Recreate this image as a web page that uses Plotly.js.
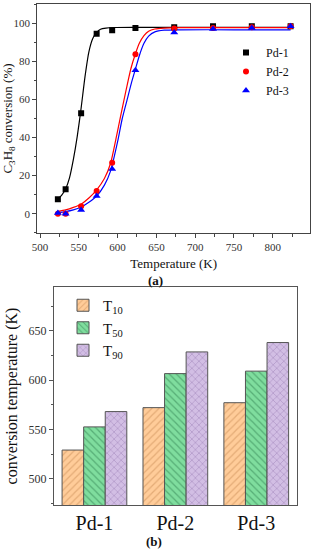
<!DOCTYPE html>
<html>
<head>
<meta charset="utf-8">
<script src="https://cdn.plot.ly/plotly-3.0.1.min.js"></script>
<style>html,body{margin:0;padding:0;background:#fff;}#chart{width:315px;height:550px;}</style>
</head>
<body>
<div id="chart"></div>
<script>
// ---------- Panel (a): C3H8 conversion vs temperature ----------
const tempPoints = [523, 533, 553, 573, 593, 623, 673, 723, 773, 823];
const pd1Conv = [7.6, 12.8, 52.7, 94.5, 96.4, 97.5, 98.0, 98.5, 98.5, 98.5];
const pd2Conv = [0.0, 0.0, 3.9, 11.9, 26.8, 83.7, 97.3, 97.5, 98.0, 98.5];
const pd3Conv = [0.3, 0.0, 1.9, 9.3, 23.5, 75.3, 95.2, 97.0, 97.5, 98.5];

// fitted curves
const pd1FitT = [523, 528, 533, 538, 543, 548, 553, 558, 563, 568, 573, 578, 585, 595, 620, 680, 750, 823];
const pd1FitY = [7.7, 9.8, 13.0, 18.8, 28.5, 40.6, 55.5, 72.0, 85.0, 92.0, 95.2, 96.9, 97.5, 97.8, 97.9, 97.9, 97.9, 97.9];
const pd2FitT = [523, 533, 543, 553, 563, 573, 583, 591, 598, 604, 611, 617, 623, 628, 634, 640, 648, 660, 680, 750, 823];
const pd2FitY = [1.2, 2.0, 3.3, 5.0, 8.2, 12.5, 18.5, 26.5, 39.5, 51.5, 65.0, 76.0, 84.0, 89.5, 93.5, 95.8, 97.0, 97.5, 97.7, 97.7, 97.7];
const pd3FitT = [523, 533, 543, 553, 563, 573, 583, 591, 600, 606, 613, 618, 623, 628, 634, 640, 648, 660, 680, 750, 823];
const pd3FitY = [0.6, 1.1, 2.0, 3.5, 6.0, 9.3, 15.0, 22.5, 37.8, 50.0, 61.0, 69.0, 76.0, 83.0, 89.5, 93.3, 95.5, 96.4, 96.6, 96.6, 96.6];

const seriesNames = ['Pd-1', 'Pd-2', 'Pd-3'];

// ---------- Panel (b): T10 / T50 / T90 ----------
const catalysts = ['Pd-1', 'Pd-2', 'Pd-3'];
const t10 = [529, 572, 577];
const t50 = [552.5, 606.5, 609];
const t90 = [568, 628.5, 638];
const barNames = ['T<sub>10</sub>', 'T<sub>50</sub>', 'T<sub>90</sub>'];

const FONT = 'Liberation Serif';
const lineColors = ['#000000', '#ff0000', '#0000ff'];
const symbols = ['square', 'circle', 'triangle-up'];

const fitsT = [pd1FitT, pd2FitT, pd3FitT];
const fitsY = [pd1FitY, pd2FitY, pd3FitY];
const convs = [pd1Conv, pd2Conv, pd3Conv];

const traces = [];
for (let i = 0; i < 3; i++) {
  traces.push({
    x: fitsT[i], y: fitsY[i], type: 'scatter', mode: 'lines',
    line: {color: lineColors[i], width: 1.2, shape: 'spline', smoothing: 0.6},
    showlegend: false, hoverinfo: 'skip', xaxis: 'x', yaxis: 'y'
  });
}
for (let i = 0; i < 3; i++) {
  traces.push({
    x: tempPoints, y: convs[i], type: 'scatter', mode: 'markers', name: seriesNames[i],
    marker: {color: lineColors[i], symbol: symbols[i], size: i === 2 ? 7 : 6},
    xaxis: 'x', yaxis: 'y', legend: 'legend'
  });
}

const barVals = [t10, t50, t90];
const barBg = ['#FFCC99', '#7FDD9E', '#D2BEE4'];
const barFg = ['#C98B55', '#2F7F4F', '#8C6CA8'];
const barShapes = ['/', '\\', 'x'];
for (let i = 0; i < 3; i++) {
  traces.push({
    x: catalysts, y: barVals[i], type: 'bar', name: barNames[i],
    marker: {
      color: barBg[i],
      line: {color: '#555555', width: 1},
      pattern: {shape: barShapes[i], bgcolor: barBg[i], fgcolor: barFg[i], size: 5, solidity: 0.25, fillmode: 'overlay'}
    },
    xaxis: 'x2', yaxis: 'y2', legend: 'legend2'
  });
}

const axLine = {showline: true, linecolor: '#444', linewidth: 1, mirror: true, zeroline: false, showgrid: false};

const layout = {
  width: 315, height: 550,
  margin: {l: 0, r: 0, t: 0, b: 0},
  paper_bgcolor: '#fff', plot_bgcolor: '#fff',
  font: {family: FONT, color: '#222'},
  barmode: 'group', bargap: 0.2, bargroupgap: 0,
  xaxis: Object.assign({}, axLine, {
    domain: [37.3/315, 310/315], range: [496.5, 848], anchor: 'y',
    tickvals: [500, 550, 600, 650, 700, 750, 800],
    ticks: 'outside', ticklen: 4, tickcolor: '#444',
    minor: {dtick: 25, tick0: 500, ticks: 'outside', ticklen: 3, tickcolor: '#444'},
    tickfont: {size: 11, family: FONT, color: '#333'},
    title: {text: 'Temperature (K)', font: {size: 13, family: FONT, color: '#111'}, standoff: 6}
  }),
  yaxis: Object.assign({}, axLine, {
    domain: [1 - 232.7/550, 1 - 4.3/550], range: [-10, 110], anchor: 'x',
    tickvals: [0, 20, 40, 60, 80, 100],
    ticks: 'outside', ticklen: 4, tickcolor: '#444',
    minor: {dtick: 10, tick0: 0, ticks: 'outside', ticklen: 2, tickcolor: '#444'},
    tickfont: {size: 11, family: FONT, color: '#333'},
    title: {text: 'C<sub>3</sub>H<sub>8</sub> conversion (%)', font: {size: 13, family: FONT, color: '#111'}, standoff: 6}
  }),
  xaxis2: Object.assign({}, axLine, {
    domain: [54/315, 296.7/315], range: [-0.5, 2.5], anchor: 'y2',
    linecolor: '#555', ticks: '',
    tickfont: {size: 20, family: FONT, color: '#111'}
  }),
  yaxis2: Object.assign({}, axLine, {
    domain: [1 - 505/550, 1 - 287/550], range: [473.3, 694.3], anchor: 'x2',
    linecolor: '#555',
    tickvals: [500, 550, 600, 650],
    ticks: 'outside', ticklen: 4, tickcolor: '#555',
    minor: {dtick: 25, tick0: 475, ticks: 'outside', ticklen: 2, tickcolor: '#555'},
    tickfont: {size: 12, family: FONT, color: '#333'},
    title: {text: 'conversion temperature (K)', font: {size: 16, family: FONT, color: '#111'}, standoff: 6}
  }),
  legend: {
    x: 226/315, y: 1 - 38/550, xanchor: 'left', yanchor: 'top',
    bgcolor: 'rgba(0,0,0,0)', font: {size: 12, family: FONT, color: '#111'}
  },
  legend2: {
    x: 63/315, y: 1 - 289/550, xanchor: 'left', yanchor: 'top',
    bgcolor: 'rgba(0,0,0,0)', font: {size: 15, family: FONT, color: '#111'}
  },
  annotations: [
    {text: '<b>(a)</b>', xref: 'paper', yref: 'paper', x: 155/315, y: 1 - 280.7/550,
     showarrow: false, font: {size: 13, family: FONT, color: '#111'}, xanchor: 'center', yanchor: 'middle'},
    {text: '<b>(b)</b>', xref: 'paper', yref: 'paper', x: 154/315, y: 1 - 541.7/550,
     showarrow: false, font: {size: 13, family: FONT, color: '#111'}, xanchor: 'center', yanchor: 'middle'}
  ]
};

Plotly.newPlot('chart', traces, layout, {staticPlot: true, displayModeBar: false});
</script>
</body>
</html>
